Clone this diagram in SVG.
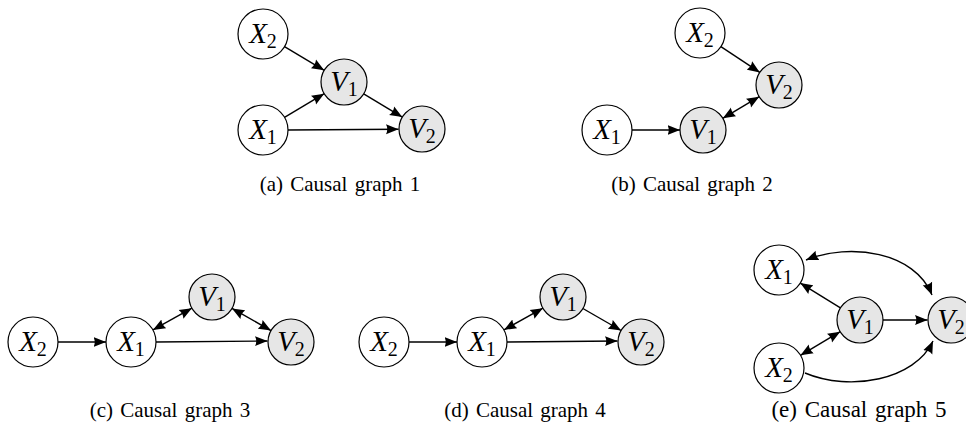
<svg xmlns="http://www.w3.org/2000/svg" width="966" height="438" viewBox="0 0 966 438">
<defs>
<marker id="ah" markerUnits="userSpaceOnUse" markerWidth="13" markerHeight="11" refX="12.5" refY="5" orient="auto-start-reverse" viewBox="0 0 13 10">
<path d="M0,0 L12.5,5 L0,10 Q2.5,5 0,0 z" fill="#000"/>
</marker>
<style>
.n{fill:#fff;stroke:#000;stroke-width:1.2}
.g{fill:#e6e6e6;stroke:#000;stroke-width:1.2}
.m{font-family:"Liberation Serif",serif;font-style:italic;font-size:29px;text-anchor:middle}
.s{font-style:normal;font-size:20px}
.e{fill:none;stroke:#000;stroke-width:1.4}
.a{marker-end:url(#ah)}
.b{marker-start:url(#ah);marker-end:url(#ah)}
.cap{font-family:"Liberation Serif",serif;font-size:21px;text-anchor:middle;word-spacing:2px}
.ce{font-size:23px}
</style>
</defs>

<g id="connectors">
<!-- (a) -->
<line class="e a" x1="284.5" y1="46.7" x2="324.2" y2="70.3"/>
<line class="e a" x1="284.5" y1="117.3" x2="324.2" y2="93.7"/>
<line class="e a" x1="363.7" y1="93.9" x2="402.3" y2="117.1"/>
<line class="e a" x1="288" y1="130" x2="398.5" y2="129.2"/>
<!-- (b) -->
<line class="e a" x1="720.9" y1="46.7" x2="759.8" y2="72.4"/>
<line class="e a" x1="632" y1="130" x2="680" y2="130"/>
<line class="e b" x1="722.8" y1="118.3" x2="759.2" y2="96.7"/>
<!-- (c) -->
<line class="e a" x1="58" y1="342" x2="106" y2="342"/>
<line class="e b" x1="152.9" y1="329.9" x2="191.9" y2="308.2"/>
<line class="e b" x1="232" y1="308.4" x2="271" y2="330.6"/>
<line class="e a" x1="156" y1="342" x2="267.5" y2="341"/>
<!-- (d) -->
<line class="e a" x1="409" y1="342" x2="457" y2="342"/>
<line class="e b" x1="503.9" y1="329.9" x2="542.9" y2="308.2"/>
<line class="e a" x1="582.9" y1="308.5" x2="621.1" y2="330.5"/>
<line class="e a" x1="507" y1="342" x2="617.5" y2="341"/>
<!-- (e) -->
<line class="e a" x1="840.4" y1="307.9" x2="800.3" y2="283.1"/>
<line class="e b" x1="800.5" y1="355.3" x2="840.2" y2="331.7"/>
<line class="e a" x1="883" y1="320" x2="927.5" y2="320"/>
<path class="e b" d="M806,260 C850,242 915,252 932,295"/>
<path class="e a" d="M805,373 C850,392 915,380 933,341"/>
</g>

<g id="a-X2"><circle class="n" cx="263" cy="34" r="25"/><text class="m" x="263" y="43">X<tspan class="s" dy="5">2</tspan></text></g>
<g id="a-V1"><circle class="g" cx="344" cy="82" r="23"/><text class="m" x="344" y="91">V<tspan class="s" dy="5">1</tspan></text></g>
<g id="a-X1"><circle class="n" cx="263" cy="130" r="25"/><text class="m" x="263" y="139">X<tspan class="s" dy="5">1</tspan></text></g>
<g id="a-V2"><circle class="g" cx="422" cy="129" r="23"/><text class="m" x="422" y="138">V<tspan class="s" dy="5">2</tspan></text></g>
<g id="cap-a"><text class="cap" x="340" y="191">(a) Causal graph 1</text></g>

<g id="b-X2"><circle class="n" cx="700" cy="33" r="25"/><text class="m" x="700" y="42">X<tspan class="s" dy="5">2</tspan></text></g>
<g id="b-V2"><circle class="g" cx="779" cy="85" r="23"/><text class="m" x="779" y="94">V<tspan class="s" dy="5">2</tspan></text></g>
<g id="b-X1"><circle class="n" cx="607" cy="130" r="25"/><text class="m" x="607" y="139">X<tspan class="s" dy="5">1</tspan></text></g>
<g id="b-V1"><circle class="g" cx="703" cy="130" r="23"/><text class="m" x="703" y="139">V<tspan class="s" dy="5">1</tspan></text></g>
<g id="cap-b"><text class="cap" x="692" y="191">(b) Causal graph 2</text></g>

<g id="c-X2"><circle class="n" cx="33" cy="342" r="25"/><text class="m" x="33" y="351">X<tspan class="s" dy="5">2</tspan></text></g>
<g id="c-X1"><circle class="n" cx="131" cy="342" r="25"/><text class="m" x="131" y="351">X<tspan class="s" dy="5">1</tspan></text></g>
<g id="c-V1"><circle class="g" cx="212" cy="297" r="23"/><text class="m" x="212" y="306">V<tspan class="s" dy="5">1</tspan></text></g>
<g id="c-V2"><circle class="g" cx="291" cy="342" r="23"/><text class="m" x="291" y="351">V<tspan class="s" dy="5">2</tspan></text></g>
<g id="cap-c"><text class="cap" x="170" y="417">(c) Causal graph 3</text></g>

<g id="d-X2"><circle class="n" cx="384" cy="342" r="25"/><text class="m" x="384" y="351">X<tspan class="s" dy="5">2</tspan></text></g>
<g id="d-X1"><circle class="n" cx="482" cy="342" r="25"/><text class="m" x="482" y="351">X<tspan class="s" dy="5">1</tspan></text></g>
<g id="d-V1"><circle class="g" cx="563" cy="297" r="23"/><text class="m" x="563" y="306">V<tspan class="s" dy="5">1</tspan></text></g>
<g id="d-V2"><circle class="g" cx="641" cy="342" r="23"/><text class="m" x="641" y="351">V<tspan class="s" dy="5">2</tspan></text></g>
<g id="cap-d"><text class="cap" x="525" y="417">(d) Causal graph 4</text></g>

<g id="e-X1"><circle class="n" cx="779" cy="270" r="25"/><text class="m" x="779" y="279">X<tspan class="s" dy="5">1</tspan></text></g>
<g id="e-V1"><circle class="g" cx="860" cy="320" r="23"/><text class="m" x="860" y="329">V<tspan class="s" dy="5">1</tspan></text></g>
<g id="e-V2"><circle class="g" cx="951" cy="320" r="23"/><text class="m" x="951" y="329">V<tspan class="s" dy="5">2</tspan></text></g>
<g id="e-X2"><circle class="n" cx="779" cy="368" r="25"/><text class="m" x="779" y="377">X<tspan class="s" dy="5">2</tspan></text></g>
<g id="cap-e"><text class="cap ce" x="859" y="417">(e) Causal graph 5</text></g>
</svg>
